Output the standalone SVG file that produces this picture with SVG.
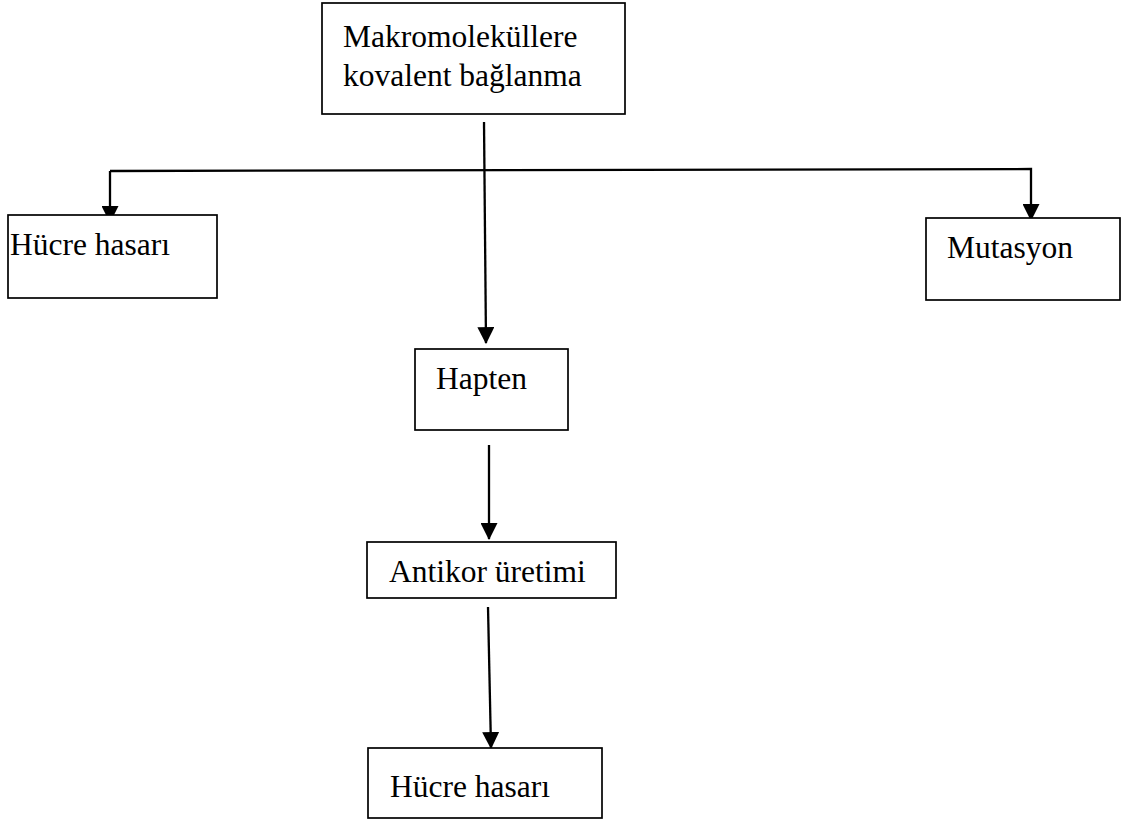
<svg xmlns="http://www.w3.org/2000/svg" width="1123" height="823" viewBox="0 0 1123 823">
<defs>
<style>
.box{fill:#fff;stroke:#000;stroke-width:1.7}
.t{font-family:"Liberation Serif","Times New Roman",serif;font-size:31.5px;fill:#000}
.c{fill:none;stroke:#000;stroke-width:2.3}
</style>
<marker id="ah" viewBox="0 0 16 16" refX="15" refY="8" markerWidth="17" markerHeight="17" markerUnits="userSpaceOnUse" orient="auto">
<path d="M0,0 L16,8 L0,16 z" fill="#000"/>
</marker>
</defs>
<rect width="1123" height="823" fill="#fff"/>
<g id="connectors">
<path class="c" d="M484,122 L486,343" marker-end="url(#ah)"/>
<path class="c" d="M110,171 L1031,169 L1031,220" marker-end="url(#ah)"/>
<path class="c" d="M110,171 L110,222" marker-end="url(#ah)"/>
<path class="c" d="M489,445 L489,539" marker-end="url(#ah)"/>
<path class="c" d="M488,607 L491,748" marker-end="url(#ah)"/>
</g>
<g id="n1">
<rect class="box" x="322" y="3" width="303" height="111"/>
<text class="t" x="343" y="47">Makromoleküllere</text>
<text class="t" x="343" y="86">kovalent bağlanma</text>
</g>
<g id="n2">
<rect class="box" x="8" y="215" width="209" height="83"/>
<text class="t" x="10" y="255">Hücre hasarı</text>
</g>
<g id="n3">
<rect class="box" x="926" y="218" width="194" height="82"/>
<text class="t" x="947" y="258">Mutasyon</text>
</g>
<g id="n4">
<rect class="box" x="415" y="349" width="153" height="81"/>
<text class="t" x="436" y="389">Hapten</text>
</g>
<g id="n5">
<rect class="box" x="367" y="542" width="249" height="56"/>
<text class="t" x="389" y="582">Antikor üretimi</text>
</g>
<g id="n6">
<rect class="box" x="368" y="748" width="234" height="70"/>
<text class="t" x="390" y="797">Hücre hasarı</text>
</g>
</svg>
